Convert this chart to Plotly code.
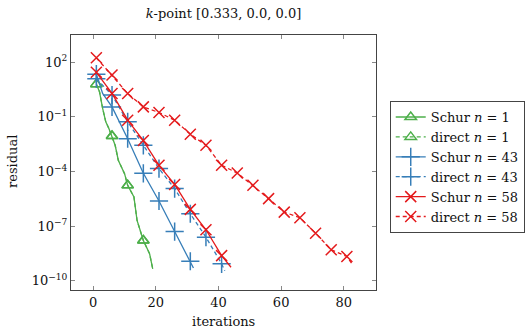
import plotly.graph_objects as go

# ---- data (log10 of residual) ----
iters_schur_1 = [1, 2, 3, 4, 5, 6, 7, 8, 10, 11, 13, 14, 16, 18, 19]
logres_schur_1 = [0.80, 0.38, -0.53, -1.27, -1.64, -2.05, -2.56, -3.38, -4.12, -4.76, -5.40, -6.69, -7.79, -8.52, -9.35]

iters_direct_1 = [1, 2, 3, 4, 5, 6, 7, 8, 10, 11, 13, 14, 16, 18, 19]
logres_direct_1 = [0.80, 0.38, -0.53, -1.27, -1.64, -2.05, -2.56, -3.38, -4.12, -4.76, -5.40, -6.69, -7.79, -8.52, -9.35]

iters_schur_43 = [1, 3, 6, 11, 16, 21, 26, 31, 32]
logres_schur_43 = [1.35, 0.29, -0.45, -2.20, -4.10, -5.62, -7.30, -8.93, -9.30]

iters_direct_43 = [1, 6, 11, 16, 21, 26, 31, 36, 41, 42]
logres_direct_43 = [1.10, 0.20, -1.27, -2.56, -3.84, -4.94, -6.32, -7.61, -9.07, -9.45]

iters_schur_58 = [1, 6, 11, 16, 21, 26, 31, 36, 41, 44]
logres_schur_58 = [1.45, 0.29, -1.18, -2.30, -3.66, -4.71, -6.08, -7.20, -8.62, -9.26]

iters_direct_58 = [1, 6, 11, 16, 21, 26, 31, 36, 41, 46, 51, 56, 61, 66, 71, 76, 81, 83]
logres_direct_58 = [2.25, 1.30, 0.29, -0.45, -0.76, -1.18, -1.95, -2.56, -3.66, -4.08,
                    -4.76, -5.49, -6.23, -6.54, -7.39, -8.30, -8.67, -9.17]

series_names = ["Schur <i>n</i> = 1", "direct <i>n</i> = 1",
                "Schur <i>n</i> = 43", "direct <i>n</i> = 43",
                "Schur <i>n</i> = 58", "direct <i>n</i> = 58"]

x_tick_vals = [0, 20, 40, 60, 80]
y_tick_exps = [2, -1, -4, -7, -10]

# ---- styles ----
GREEN, BLUE, RED = "#4daf4a", "#377eb8", "#e41a1c"
FONT = "DejaVu Serif"
FS = 13

series = [
    (iters_schur_1, logres_schur_1, GREEN, "solid", "triangle-up-open", 10),
    (iters_direct_1, logres_direct_1, GREEN, "4px,3px", "triangle-up-open", 10),
    (iters_schur_43, logres_schur_43, BLUE, "solid", "cross-thin", 13),
    (iters_direct_43, logres_direct_43, BLUE, "4px,3px", "cross-thin", 13),
    (iters_schur_58, logres_schur_58, RED, "solid", "x-thin", 11),
    (iters_direct_58, logres_direct_58, RED, "4px,3px", "x-thin", 11),
]

fig = go.Figure()
for name, (xs, ls, col, dash, sym, size) in zip(series_names, series):
    ys = [10 ** v for v in ls]
    fig.add_trace(go.Scatter(x=xs, y=ys, mode="lines", line=dict(color=col, width=1.3, dash=dash),
                             showlegend=False, legendgroup=name, hoverinfo="skip"))
    mx = [x for x in xs if (x - 1) % 5 == 0]
    my = [y for x, y in zip(xs, ys) if (x - 1) % 5 == 0]
    fig.add_trace(go.Scatter(x=mx, y=my, mode="markers",
                             marker=dict(symbol=sym, size=size, color=col, line=dict(color=col, width=1.5)),
                             showlegend=False, legendgroup=name))
    fig.add_trace(go.Scatter(x=[None], y=[None], mode="lines+markers", name=name, legendgroup=name,
                             line=dict(color=col, width=1.3, dash=dash),
                             marker=dict(symbol=sym, size=size, color=col, line=dict(color=col, width=1.5))))

def sup(e):
    return "10<sup>" + (str(e) if e >= 0 else "\u2212" + str(-e)) + "</sup>"

axis_common = dict(showline=True, linecolor="#444", linewidth=1, mirror="allticks",
                   ticks="inside", ticklen=4, tickcolor="#888", tickwidth=1,
                   showgrid=False, zeroline=False, automargin=False,
                   tickfont=dict(family=FONT, size=FS, color="#111"))

W, H = 527, 332
fig.update_layout(
    width=W, height=H,
    margin=dict(l=71, r=151, t=35, b=42, autoexpand=False),
    paper_bgcolor="white", plot_bgcolor="white",
    font=dict(family=FONT, size=FS, color="#111"),
    title=dict(text="<i>k</i>-point [0.333, 0.0, 0.0]", x=223.5 / W, xanchor="center",
               y=1 - 13 / H, yanchor="middle", font=dict(family=FONT, size=FS)),
    xaxis=dict(range=[-7.1, 90.3], tickvals=x_tick_vals, **axis_common),
    yaxis=dict(type="log", range=[-10.51, 3.50], tickvals=[10 ** e for e in y_tick_exps],
               ticktext=[sup(e) for e in y_tick_exps], **axis_common),
    legend=dict(x=1.045, y=0.741, xanchor="left", yanchor="top", bgcolor="white",
                bordercolor="#444", borderwidth=1, itemwidth=30, tracegroupgap=0,
                font=dict(family=FONT, size=FS, color="#111")),
    annotations=[
        dict(text="iterations", xref="paper", yref="paper", x=0.5, y=(290 - 321) / 255,
             xanchor="center", yanchor="middle", showarrow=False, font=dict(family=FONT, size=FS)),
        dict(text="residual", xref="paper", yref="paper", x=(12 - 71) / 305, y=(290 - 162) / 255,
             xanchor="center", yanchor="middle", textangle=-90, showarrow=False,
             font=dict(family=FONT, size=FS)),
    ],
)

# remove the default 8px page margin so the figure fills the window exactly
fig.write_html("out.html", config={"displayModeBar": False},
               post_script="document.body.style.margin='0';")
